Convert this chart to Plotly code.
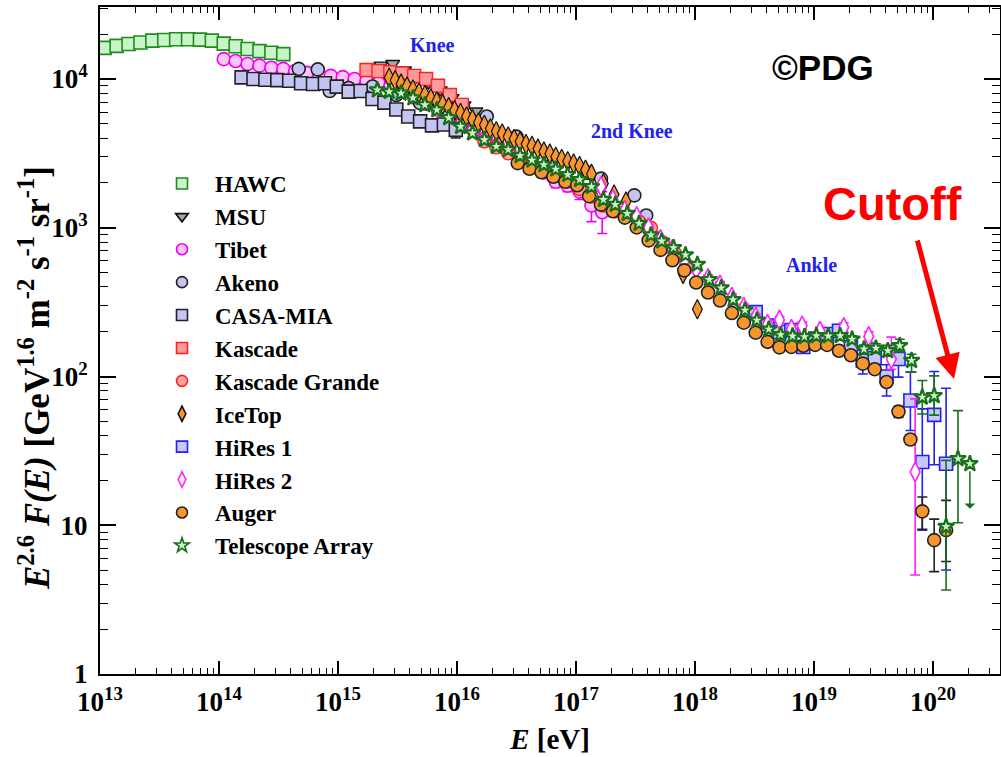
import math
import plotly.graph_objects as go

# ---------------- data: log10(E / eV) and E^2.6 F(E) [GeV^1.6 m^-2 s^-1 sr^-1]
hawc_logE = [13.04, 13.14, 13.24, 13.34, 13.44, 13.54, 13.64, 13.74, 13.84, 13.94, 14.04, 14.14, 14.24, 14.34, 14.44, 14.54]
hawc_flux = [16200, 16700, 17200, 17600, 18100, 18300, 18500, 18500, 18400, 18100, 17300, 16600, 15900, 15400, 15000, 14700]

msu_logE = [15.36, 15.46, 15.56, 15.66, 15.76, 15.86, 15.96, 16.06, 16.16]
msu_flux = [12400, 12700, 11500, 10300, 9400, 8450, 7500, 6700, 6100]

tibet_logE = [14.04, 14.14, 14.24, 14.34, 14.44, 14.54, 14.64, 14.74, 14.84, 14.94, 15.04, 15.14, 15.24,
              15.34, 15.44, 15.54, 15.64, 15.74, 15.84, 15.94, 16.04, 16.14, 16.24, 16.34, 16.44, 16.54,
              16.64, 16.73, 16.83, 16.93, 17.03, 17.13, 17.22]
tibet_flux = [13600, 13200, 12600, 12300, 11900, 11700, 11300, 11000, 10800, 10500, 10300, 10000, 9700,
              9400, 8900, 8200, 7500, 6800, 6200, 5600, 5000, 4500, 4000, 3600, 3250, 2900,
              2650, 2350, 2040, 1920, 1750, 1410, 1270]
tibet_hi = [None] * 28 + [2240, 2100, 1950, 1750, 1750]
tibet_lo = [None] * 28 + [1860, 1750, 1550, 1100, 914]

akeno_logE = [14.67, 14.83, 14.93, 15.09, 15.29, 15.49, 15.69, 15.89, 16.05, 16.25, 16.5, 16.78, 17.1, 17.21, 17.49, 17.59]
akeno_flux = [11700, 11600, 8300, 8700, 8900, 7800, 6900, 6300, 6600, 5600, 4100, 2600, 2340, 2140, 1650, 1210]

casa_logE = [14.19, 14.29, 14.39, 14.49, 14.59, 14.69, 14.79, 14.89, 14.99, 15.09, 15.19, 15.29, 15.39, 15.49,
             15.59, 15.69, 15.79, 15.89, 15.99]
casa_flux = [10260, 10000, 9890, 9820, 9740, 9360, 9260, 9360, 8880, 8220, 8310, 7340, 6940, 6230, 5590, 5190, 4880, 4950, 4550]
casa_hi = [None] * 18 + [5100]
casa_lo = [None] * 18 + [4010]

kascade_logE = [15.24, 15.34, 15.44, 15.54, 15.64, 15.74, 15.84, 15.94, 16.04]
kascade_flux = [11500, 11300, 11100, 10900, 10500, 10000, 9000, 7800, 6700]

kg_logE = [16.23, 16.33, 16.43, 16.53, 16.63, 16.73, 16.83, 16.93, 17.03, 17.13, 17.23, 17.33, 17.43,
           17.53, 17.63, 17.73, 17.83, 17.93]
kg_flux = [3800, 3470, 3160, 2880, 2630, 2400, 2240, 2040, 1820, 1620, 1410, 1290, 1200, 1100, 1000, 795, 676, 562]

icetop_logE = [15.43, 15.48, 15.53, 15.58, 15.63, 15.68, 15.73, 15.78, 15.83, 15.88, 15.93, 15.98, 16.03,
               16.08, 16.13, 16.18, 16.23, 16.28, 16.33, 16.38, 16.43, 16.48, 16.53, 16.58, 16.63, 16.68,
               16.73, 16.78, 16.83, 16.88, 16.93, 16.98, 17.03, 17.08, 17.13, 17.23, 17.32, 17.42, 17.90, 18.02]
icetop_flux = [10200, 9800, 9300, 8900, 8500, 8100, 7800, 7400, 7050, 6750, 6450, 6150, 5900,
               5600, 5350, 5100, 4900, 4650, 4450, 4300, 4100, 3950, 3800, 3650, 3550, 3400,
               3250, 3150, 3000, 2900, 2800, 2700, 2600, 2450, 2300, 1980, 1670, 1500, 490, 283]

hires1_logE = [18.51, 18.61, 18.71, 18.81, 18.91, 19.01, 19.11, 19.21, 19.31, 19.41, 19.51, 19.61, 19.71,
               19.81, 19.91, 20.01, 20.11]
hires1_flux = [271, 220, 199, 205, 158, 180, 193, 203, 157, 128, 133, 100, 131, 68.9, 26.6, 55.2, 25.9]
hires1_hi = [285, 232, 210, 217, 168, 192, 207, 219, 172, 150, 152, 120, 161, 107, 60.6, 108, 83.4]
hires1_lo = [257, 208, 188, 193, 148, 168, 179, 187, 142, 104, 116, 74, 99, 43.3, 9.27, 25.5, 5.0]

hires2_logE = [17.21, 17.31, 17.41, 17.51, 17.61, 17.71, 17.81, 17.91, 18.01, 18.11, 18.21, 18.31, 18.41,
               18.51, 18.61, 18.71, 18.81, 18.90, 19.05, 19.25, 19.46, 19.65, 19.85]
hires2_flux = [1900, 1545, 1306, 1190, 1000, 834, 715, 597, 525, 457, 413, 341, 292,
               251, 225, 240, 208, 219, 202, 214, 186, 131, 22.8]
hires2_hi = [1990, 1620, 1370, 1250, 1050, 876, 751, 627, 551, 480, 434, 358, 307,
             264, 237, 253, 220, 232, 215, 230, 200, 184, 70.7]
hires2_lo = [1810, 1470, 1240, 1130, 950, 792, 679, 567, 499, 434, 392, 324, 277,
             238, 213, 227, 196, 206, 189, 199, 170, 112, 4.63]

auger_logE = [16.51, 16.61, 16.71, 16.81, 16.91, 17.01, 17.11, 17.21, 17.31, 17.41, 17.51, 17.61, 17.71,
              17.81, 17.91, 18.01, 18.11, 18.21, 18.31, 18.41, 18.51, 18.61, 18.71, 18.81, 18.91, 19.01,
              19.11, 19.21, 19.31, 19.41, 19.51, 19.61, 19.71, 19.81, 19.91, 20.01, 20.11]
auger_flux = [2720, 2490, 2360, 2200, 2040, 1930, 1630, 1430, 1290, 1170, 1005, 822, 710,
              604, 517, 428, 367, 324, 267, 230, 197, 171, 157, 158, 161, 163,
              163, 149, 139, 122, 112, 91.8, 58.1, 37.7, 12.4, 7.94, 9.27]
auger_hi = [None] * 32 + [63, 40.5, 15.5, 11.0, 14.7]
auger_lo = [None] * 32 + [53, 35, 9.4, 4.88, 5.7]

ta_logE = [15.33, 15.43, 15.53, 15.63, 15.73, 15.83, 15.93, 16.03, 16.13, 16.23, 16.33, 16.43, 16.53,
           16.63, 16.73, 16.83, 16.93, 17.03, 17.13, 17.23, 17.33, 17.43, 17.53, 17.63, 17.72, 17.82,
           17.92, 18.02, 18.12, 18.22, 18.32, 18.42, 18.52, 18.62, 18.72, 18.82, 18.92, 19.02, 19.12,
           19.22, 19.32, 19.42, 19.52, 19.62, 19.72, 19.82, 19.91, 20.01, 20.11, 20.21, 20.31]
ta_flux = [8440, 8220, 8020, 7460, 6700, 6200, 5480, 4790, 4330, 3900, 3520, 3345, 3050,
           2844, 2654, 2476, 2275, 2106, 1890, 1547, 1432, 1246, 1068, 894, 813, 734,
           657, 567, 448, 394, 328, 279, 239, 208, 191, 187, 185, 188, 187,
           188, 178, 153, 155, 149, 161, 128, 72.6, 74.3, 9.8, 28.0, 25.9]
ta_hi = [None] * 40 + [188, 163, 166, 162, 178, 141, 94, 101, 27.3, 59, None]
ta_lo = [None] * 40 + [168, 143, 144, 137, 146, 107, 56, 55, 3.67, 10.4, None]
ta_limit_tip = 12.9   # arrow end of the last (upper-limit) TA point

series_names = ["HAWC", "MSU", "Tibet", "Akeno", "CASA-MIA", "Kascade", "Kascade Grande",
                "IceTop", "HiRes 1", "HiRes 2", "Auger", "Telescope Array"]

x_tick_exp = [13, 14, 15, 16, 17, 18, 19, 20]
y_tick_vals = [1, 10, 100, 1000, 10000]
y_tick_text = ["1", "10", "10<sup>2</sup>", "10<sup>3</sup>", "10<sup>4</sup>"]

# ---------------- styles
styles = {
    "HAWC": dict(symbol="square", size=13, color="#c8f5c8", line=dict(color="#1e8c1e", width=1.6)),
    "MSU": dict(symbol="triangle-down", size=12, color="#a8a8a8", line=dict(color="#111111", width=1.4)),
    "Tibet": dict(symbol="circle", size=13, color="#ffc4ff", line=dict(color="#ee00ee", width=1.6)),
    "Akeno": dict(symbol="circle", size=13, color="#c4c4f0", line=dict(color="#222222", width=1.6)),
    "CASA-MIA": dict(symbol="square", size=13, color="#c4c4f4", line=dict(color="#222222", width=1.6)),
    "Kascade": dict(symbol="square", size=13, color="#ff9a9a", line=dict(color="#ff2020", width=1.4)),
    "Kascade Grande": dict(symbol="circle", size=13, color="#ffa0a0", line=dict(color="#ff2020", width=1.4)),
    "IceTop": dict(symbol="diamond-tall", size=14, color="#f7962f", line=dict(color="#111111", width=1.2)),
    "HiRes 1": dict(symbol="square", size=13, color="#c8c8fa", line=dict(color="#2020ff", width=1.6)),
    "HiRes 2": dict(symbol="diamond-tall", size=14, color="#ffffff", line=dict(color="#ff20ff", width=1.6)),
    "Auger": dict(symbol="circle", size=13, color="#f7962f", line=dict(color="#222222", width=1.6)),
    "Telescope Array": dict(symbol="star", size=12, color="#d0f0d0", line=dict(color="#187018", width=2.2)),
}
err_colors = {"Tibet": "#ee00ee", "CASA-MIA": "#222222", "HiRes 1": "#2020ff", "HiRes 2": "#ff20ff",
              "Auger": "#222222", "Telescope Array": "#187018"}

series = [
    ("HAWC", hawc_logE, hawc_flux, None, None),
    ("MSU", msu_logE, msu_flux, None, None),
    ("Tibet", tibet_logE, tibet_flux, tibet_hi, tibet_lo),
    ("Akeno", akeno_logE, akeno_flux, None, None),
    ("CASA-MIA", casa_logE, casa_flux, casa_hi, casa_lo),
    ("Kascade", kascade_logE, kascade_flux, None, None),
    ("Kascade Grande", kg_logE, kg_flux, None, None),
    ("IceTop", icetop_logE, icetop_flux, None, None),
    ("HiRes 1", hires1_logE, hires1_flux, hires1_hi, hires1_lo),
    ("HiRes 2", hires2_logE, hires2_flux, hires2_hi, hires2_lo),
    ("Auger", auger_logE, auger_flux, auger_hi, auger_lo),
    ("Telescope Array", ta_logE, ta_flux, ta_hi, ta_lo),
]

fig = go.Figure()
for name, le, fl, hi, lo in series:
    err = None
    if hi is not None:
        plus = [(h - f) if h is not None else None for h, f in zip(hi, fl)]
        minus = [(f - l) if l is not None else None for l, f in zip(lo, fl)]
        err = dict(type="data", symmetric=False, array=plus, arrayminus=minus,
                   color=err_colors[name], thickness=1.6, width=5)
    fig.add_trace(go.Scatter(x=[10.0 ** v for v in le], y=fl, mode="markers", name=name,
                             showlegend=False, marker=styles[name], error_y=err))

# legend-only entries (smaller symbols as in the reference legend)
for name in series_names:
    st = dict(styles[name])
    st["size"] = 11
    st["line"] = dict(color=st["line"]["color"], width=1.6)
    fig.add_trace(go.Scatter(x=[None], y=[None], mode="markers", name=name, legendgroup=name,
                             showlegend=True, marker=st))

# upper-limit arrow for last TA point
fig.add_annotation(x=ta_logE[-1], y=math.log10(ta_limit_tip), xref="x", yref="y",
                   ax=ta_logE[-1], ay=math.log10(ta_flux[-1]), axref="x", ayref="y",
                   showarrow=True, arrowhead=1, arrowsize=1.2, arrowwidth=1.5, arrowcolor="#187018",
                   startstandoff=6, text="")

PLOT_L, PLOT_W, PLOT_B, PLOT_H = 100, 900, 674, 667


def px(xp):
    return (xp - PLOT_L) / PLOT_W


def py(yp):
    return (PLOT_B - yp) / PLOT_H


def label(txt, xx, yy, font, angle=0):
    fig.add_annotation(text=txt, x=px(xx), y=py(yy), xref="paper", yref="paper", showarrow=False,
                       xanchor="center", yanchor="middle", textangle=angle, font=font)


blue = "#2222ee"
for txt, xx, yy in [("Knee", 432, 45), ("2nd Knee", 632, 131), ("Ankle", 811, 265)]:
    label(txt, xx, yy, dict(family="Liberation Serif", size=20, color=blue, weight="bold"))
label("©PDG", 823, 67, dict(family="Liberation Sans", size=35, color="black", weight="bold"))
label("Cutoff", 892, 203, dict(family="Liberation Sans", size=47, color="#ff0000", weight="bold"))
label("<i>E</i><sup>2.6</sup> <i>F(E)</i> [GeV<sup>1.6</sup> m<sup>-2</sup> s<sup>-1</sup> sr<sup>-1</sup>]",
      35, 378, dict(family="Liberation Serif", size=35, color="black", weight="bold"), angle=-90)

fig.add_annotation(text="", x=px(954), y=py(379), xref="paper", yref="paper", showarrow=True,
                   ax=-37, ay=-140, arrowcolor="#ff0000", arrowwidth=5, arrowhead=2, arrowsize=1.0,
                   standoff=0)

x_minor = [m * 10.0 ** k for k in range(13, 21) for m in range(2, 10)]
y_minor = [m * 10.0 ** k for k in range(0, 5) for m in range(2, 10)]

axis_common = dict(showline=True, linecolor="black", linewidth=2, mirror="allticks", ticks="inside",
                   tickwidth=1.5, tickcolor="black", showgrid=False, zeroline=False)

fig.update_xaxes(type="log", range=[13, 13 + 900 / 119.0],
                 tickmode="array", tickvals=[10.0 ** e for e in x_tick_exp],
                 ticktext=["10<sup>%d</sup>" % e for e in x_tick_exp], ticklen=13,
                 ticklabelstandoff=3,
                 minor=dict(tickmode="array", tickvals=x_minor, ticks="inside", ticklen=6,
                            tickwidth=1.2, tickcolor="black", showgrid=False),
                 tickfont=dict(family="Liberation Serif", size=27, color="black", weight="bold"),
                 title=dict(text="<i>E</i> [eV]", standoff=12,
                            font=dict(family="Liberation Serif", size=29, color="black", weight="bold")),
                 **axis_common)
fig.update_yaxes(type="log", range=[0, 667 / 148.75],
                 tickmode="array", tickvals=y_tick_vals, ticktext=y_tick_text, ticklen=16,
                 ticklabelstandoff=5,
                 minor=dict(tickmode="array", tickvals=y_minor, ticks="inside", ticklen=8,
                            tickwidth=1.2, tickcolor="black", showgrid=False),
                 tickfont=dict(family="Liberation Serif", size=27, color="black", weight="bold"),
                 **axis_common)

fig.update_layout(
    width=1001, height=757,
    margin=dict(l=100, r=1, t=7, b=83, autoexpand=False),
    paper_bgcolor="white", plot_bgcolor="white",
    font=dict(family="Liberation Serif", color="black", weight="bold"),
    legend=dict(x=px(149), y=py(162), xanchor="left", yanchor="top", tracegroupgap=0,
                font=dict(family="Liberation Serif", size=23, color="black", weight="bold"),
                bgcolor="rgba(0,0,0,0)", itemwidth=56),
)

fig.write_html("out.html", config={"displayModeBar": False},
               post_script="document.body.style.margin='0px';")
